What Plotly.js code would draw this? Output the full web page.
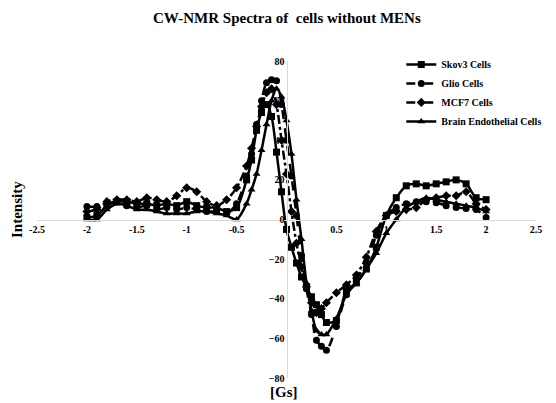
<!DOCTYPE html>
<html>
<head>
<meta charset="utf-8">
<script src="https://cdn.plot.ly/plotly-3.0.1.min.js"></script>
<style>html,body{margin:0;padding:0;background:#fff;}#chart{width:556px;height:403px;}</style>
</head>
<body>
<div id="chart"></div>
<script>
const xGs = [-2,-1.9,-1.8,-1.7,-1.6,-1.5,-1.4,-1.3,-1.2,-1.1,-1.0,-0.9,-0.8,-0.7,-0.6,-0.5,-0.4,
  -0.35,-0.3,-0.25,-0.2,-0.15,-0.1,-0.05,0,0.05,0.1,0.15,0.2,0.25,0.3,0.35,0.4,
  0.5,0.6,0.7,0.8,0.9,1.0,1.1,1.2,1.3,1.4,1.5,1.6,1.7,1.8,1.9,2.0];

const skov3 = [1,2,7,9,9,8,8,7,8,7,9,7,6,6,4,6,20,
  30,45,54,58,52,34,14,-5,-14,-22,-29,-34,-39,-43,-48,-52,
  -51,-36,-32,-25,-14,2,11,17,18,17,18,19,20,18,11,10];

const glio = [6.5,6.5,8,9,7,6,7,5,6,5,6,5,4,4,3,8,22,
  33,48,60,69,70.5,70,58,40,22,2,-18,-35,-48,-61,-64,-66,
  -54,-38,-30,-22,-8,2,6,8,9,9,8.5,7,6,5.5,5,1];

const mcf7 = [4,5,9,10,10,9,11,10,9,12,16,14,9,7,10,16,27,
  36,47,57,64,66,58,40,23,4,-12,-24,-34,-42,-47,-45,-42,
  -37,-33,-28,-19,-6,2,4,5,6,10,11,12,12,14,8,5];

const brain = [0,0,5,8,7,5,5,4,3,3,3,4,4,3,2,0,8,
  15,23,35,48,60,66,62,50,33,10,-10,-32,-46,-56,-58,-58,
  -50,-38,-32,-25,-17,-7,0,6,9,11,10,9,8,7,6,4];

const seriesNames = ['Skov3 Cells','Glio Cells','MCF7 Cells','Brain Endothelial Cells'];
const xTicks = [-2.5,-2,-1.5,-1,-0.5,0.5,1,1.5,2,2.5];
const yTicks = [-80,-60,-40,-20,0,20,40,60,80];

const serif = 'Liberation Serif, Times New Roman, serif';
function tr(y, name, sym, dash) {
  return {x: xGs, y: y, name: name, type: 'scatter', mode: 'lines+markers',
    line: {color: '#000', width: 2.5, shape: 'spline', smoothing: 0.8, dash: dash},
    marker: {symbol: sym, size: 7, color: '#000'}};
}
const data = [
  tr(skov3, seriesNames[0], 'square', 'solid'),
  tr(glio, seriesNames[1], 'circle', 'dash'),
  tr(mcf7, seriesNames[2], 'diamond', 'dashdot'),
  tr(brain, seriesNames[3], 'triangle-up', 'solid')
];

const layout = {
  width: 556, height: 403,
  margin: {l: 37, r: 9, t: 61, b: 25},
  paper_bgcolor: '#fff', plot_bgcolor: '#fff',
  font: {family: serif, color: '#000', size: 10, weight: 'bold'},
  title: {text: 'CW-NMR Spectra of&nbsp; cells without MENs', font: {family: serif, size: 15, weight: 'bold', color: '#000'},
    x: 0.516, xref: 'container', xanchor: 'center', y: 0.955, yref: 'container', yanchor: 'middle'},
  xaxis: {range: [-2.5, 2.5], tickvals: xTicks, ticktext: xTicks.map(String), showgrid: false, zeroline: false,
    showline: true, linecolor: '#d9d9d9', linewidth: 1.5, anchor: 'free', position: 0.5, ticks: '',
    tickfont: {family: serif, size: 10, weight: 'bold'}},
  yaxis: {range: [-80, 80], tickvals: yTicks, showgrid: false, zeroline: false,
    showline: true, linecolor: '#d9d9d9', linewidth: 1.5, anchor: 'free', position: 0.5, ticks: '',
    tickfont: {family: serif, size: 10, weight: 'bold'}},
  showlegend: true,
  legend: {x: 0.73, y: 1.035, xanchor: 'left', yanchor: 'top', bgcolor: 'rgba(0,0,0,0)',
    font: {family: serif, size: 10, weight: 'bold'}, tracegroupgap: 0, itemwidth: 30},
  annotations: [
    {text: 'Intensity', xref: 'paper', yref: 'paper', x: -0.04, y: 0.53, showarrow: false, textangle: -90,
      font: {family: serif, size: 15, weight: 'bold'}, xanchor: 'center', yanchor: 'middle'},
    {text: '[Gs]', xref: 'paper', yref: 'paper', x: 0.495, y: -0.045, showarrow: false,
      font: {family: serif, size: 15, weight: 'bold'}, xanchor: 'center', yanchor: 'middle'}
  ]
};
Plotly.newPlot('chart', data, layout, {displayModeBar: false, staticPlot: true});
</script>
</body>
</html>
